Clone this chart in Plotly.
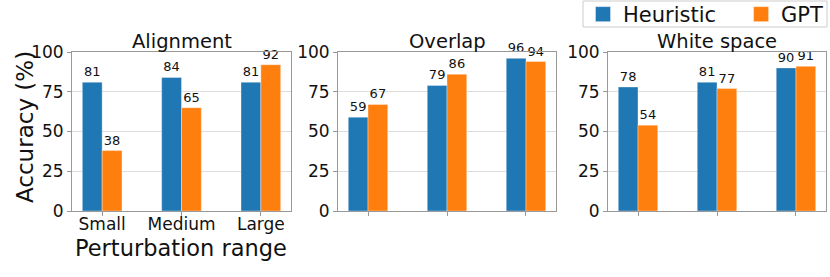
import plotly.graph_objects as go

categories = ["Small", "Medium", "Large"]
panels = ["Alignment", "Overlap", "White space"]
heuristic = {
    "Alignment": [81, 84, 81],
    "Overlap": [59, 79, 96],
    "White space": [78, 81, 90],
}
gpt = {
    "Alignment": [38, 65, 92],
    "Overlap": [67, 86, 94],
    "White space": [54, 77, 91],
}
y_ticks = [0, 25, 50, 75, 100]

W, H = 830, 277
BLUE = "#1f77b4"
ORANGE = "#ff7f0e"
FONT = "DejaVu Sans"

x_dom_px = [(72, 291), (338, 556), (608, 826)]
y_top_px, y_bot_px = 52, 211
y_dom = [(H - y_bot_px) / H, (H - y_top_px) / H]

fig = go.Figure()
xpos = list(range(len(categories)))

for i, name in enumerate(panels):
    ax = "" if i == 0 else str(i + 1)
    for series, vals, color in (("Heuristic", heuristic[name], BLUE), ("GPT", gpt[name], ORANGE)):
        fig.add_trace(go.Bar(
            x=xpos, y=vals, name=series, marker_color=color,
            marker_line=dict(color="rgba(255,255,255,0.45)", width=0.8),
            text=[str(v) for v in vals], textposition="outside",
            textfont=dict(family=FONT, size=13, color="#111"),
            cliponaxis=False, showlegend=False,
            xaxis="x" + ax, yaxis="y" + ax,
        ))
    xd = [x_dom_px[i][0] / W, x_dom_px[i][1] / W]
    common = dict(showline=True, linecolor="#999", linewidth=1, mirror=True,
                  ticks="outside", ticklen=4, tickcolor="#999")
    fig.layout["xaxis" + ax] = dict(
        domain=xd, range=[-0.38, 2.38], anchor="y" + ax,
        tickvals=xpos, ticktext=categories if i == 0 else ["", "", ""],
        showticklabels=(i == 0), showgrid=False, zeroline=False,
        ticklabelstandoff=-6,
        tickfont=dict(family=FONT, size=17, color="#111"), **common)
    fig.layout["yaxis" + ax] = dict(
        domain=y_dom, range=[0, 100], anchor="x" + ax,
        tickvals=y_ticks, showgrid=True, gridcolor="#dddddd", gridwidth=1,
        zeroline=False, tickfont=dict(family=FONT, size=17, color="#111"), **common)
    fig.add_annotation(
        text=name, x=(xd[0] + xd[1]) / 2, y=(H - 41) / H, xref="paper", yref="paper",
        xanchor="center", yanchor="middle", showarrow=False,
        font=dict(family=FONT, size=19.5, color="#111"))

# legend entries
for series, color in (("Heuristic\u00a0\u00a0\u00a0", BLUE), ("GPT", ORANGE)):
    fig.add_trace(go.Scatter(
        x=[None], y=[None], mode="markers", name=series,
        marker=dict(symbol="square", size=15, color=color,
                    line=dict(color="rgba(255,255,255,0.45)", width=0.8)),
        showlegend=True, xaxis="x3", yaxis="y3"))

fig.add_annotation(text="Accuracy (%)", x=25 / W, y=(H - 127) / H, xref="paper", yref="paper",
                   textangle=-90, showarrow=False, xanchor="center", yanchor="middle",
                   font=dict(family=FONT, size=23, color="#111"))
fig.add_annotation(text="Perturbation range", x=181 / W, y=(H - 248) / H, xref="paper", yref="paper",
                   showarrow=False, xanchor="center", yanchor="middle",
                   font=dict(family=FONT, size=22.5, color="#111"))

# legend frame
fig.add_shape(type="rect", xref="paper", yref="paper",
              x0=583 / W, x1=827 / W, y0=(H - 27) / H, y1=(H - 1) / H,
              line=dict(color="#cccccc", width=1), fillcolor="rgba(0,0,0,0)", layer="above")

fig.update_layout(
    width=W, height=H, margin=dict(l=0, r=0, t=0, b=0, autoexpand=False),
    paper_bgcolor="white", plot_bgcolor="white",
    barmode="group", bargap=0.5, bargroupgap=0,
    showlegend=True,
    legend=dict(orientation="h", x=583 / W, y=1 + 6 / H, xanchor="left", yanchor="top",
                borderwidth=0, bgcolor="rgba(0,0,0,0)",
                font=dict(family=FONT, size=21, color="#111"),
                itemsizing="trace"),
    font=dict(family=FONT),
)

fig.write_html("out.html", config={"displayModeBar": False},
               post_script="document.body.style.margin='0';document.body.style.overflow='hidden';")
